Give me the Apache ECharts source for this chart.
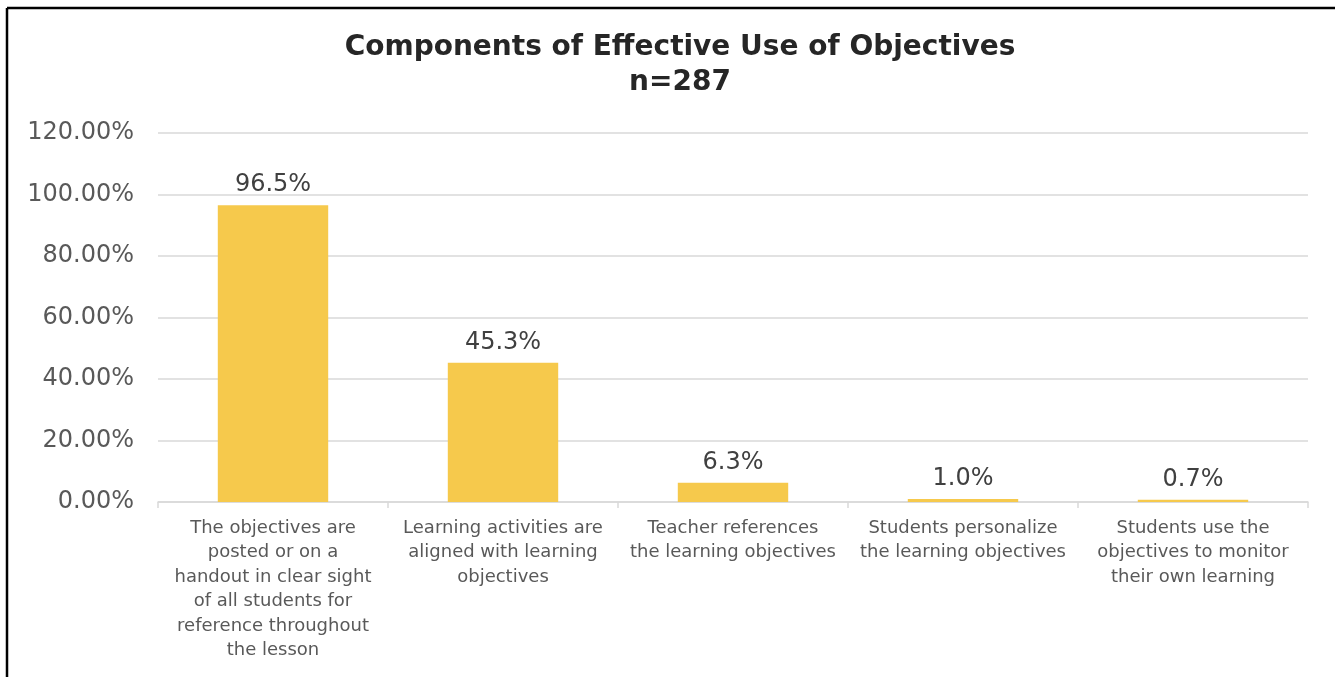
<!DOCTYPE html>
<html>
<head>
<meta charset="utf-8">
<script src="https://cdn.jsdelivr.net/npm/echarts@6/dist/echarts.min.js"></script>
<style>
  html, body { margin: 0; padding: 0; background: #fff; }
  #chart { width: 1335px; height: 677px; }
</style>
</head>
<body>
<div id="chart"></div>
<script>
// Survey components (line breaks follow the printed wrapping)
const categories = [
  'The objectives are\nposted or on a\nhandout in clear sight\nof all students for\nreference throughout\nthe lesson',
  'Learning activities are\naligned with learning\nobjectives',
  'Teacher references\nthe learning objectives',
  'Students personalize\nthe learning objectives',
  'Students use the\nobjectives to monitor\ntheir own learning'
];
// Share of observed lessons (fraction of n=287)
const shares = [0.965, 0.453, 0.063, 0.010, 0.007];
const yTicks = [0, 0.2, 0.4, 0.6, 0.8, 1.0, 1.2];

const FONT = '"DejaVu Sans", Verdana, sans-serif';
const chart = echarts.init(document.getElementById('chart'));

chart.setOption({
  animation: false,
  backgroundColor: '#ffffff',
  textStyle: { fontFamily: FONT },
  title: {
    text: 'Components of Effective Use of Objectives\nn=287',
    left: 675,
    top: 25,
    textAlign: 'center',
    textStyle: {
      fontFamily: FONT,
      fontSize: 28,
      fontWeight: 'bold',
      color: '#262626',
      lineHeight: 35
    }
  },
  graphic: [
    { type: 'line', shape: { x1: 7, y1: 8, x2: 1335, y2: 8 }, style: { stroke: '#000', lineWidth: 2.5 } },
    { type: 'line', shape: { x1: 7, y1: 8, x2: 7, y2: 677 }, style: { stroke: '#000', lineWidth: 2.5 } }
  ],
  grid: { left: 158, right: 27, top: 133, bottom: 175, containLabel: false },
  xAxis: {
    type: 'category',
    data: categories,
    axisLine: { lineStyle: { color: '#d9d9d9', width: 1.5 } },
    axisTick: { show: true, length: 6, lineStyle: { color: '#d9d9d9', width: 1.5 } },
    axisLabel: {
      interval: 0,
      margin: 14,
      fontFamily: FONT,
      fontSize: 18,
      lineHeight: 24.5,
      color: '#595959',
      align: 'center'
    }
  },
  yAxis: {
    type: 'value',
    min: yTicks[0],
    max: yTicks[yTicks.length - 1],
    interval: 0.2,
    axisLine: { show: false },
    axisTick: { show: false },
    splitLine: { lineStyle: { color: '#d9d9d9', width: 1.5 } },
    axisLabel: {
      margin: 24,
      fontFamily: FONT,
      fontSize: 24,
      color: '#595959',
      formatter: v => (v * 100).toFixed(2) + '%'
    }
  },
  series: [{
    type: 'bar',
    data: shares,
    barCategoryGap: '52%',
    itemStyle: { color: '#f6c94c' },
    label: {
      show: true,
      position: 'top',
      distance: 8,
      fontFamily: FONT,
      fontSize: 24,
      color: '#404040',
      formatter: p => (p.value * 100).toFixed(1) + '%'
    }
  }]
});
</script>
</body>
</html>
